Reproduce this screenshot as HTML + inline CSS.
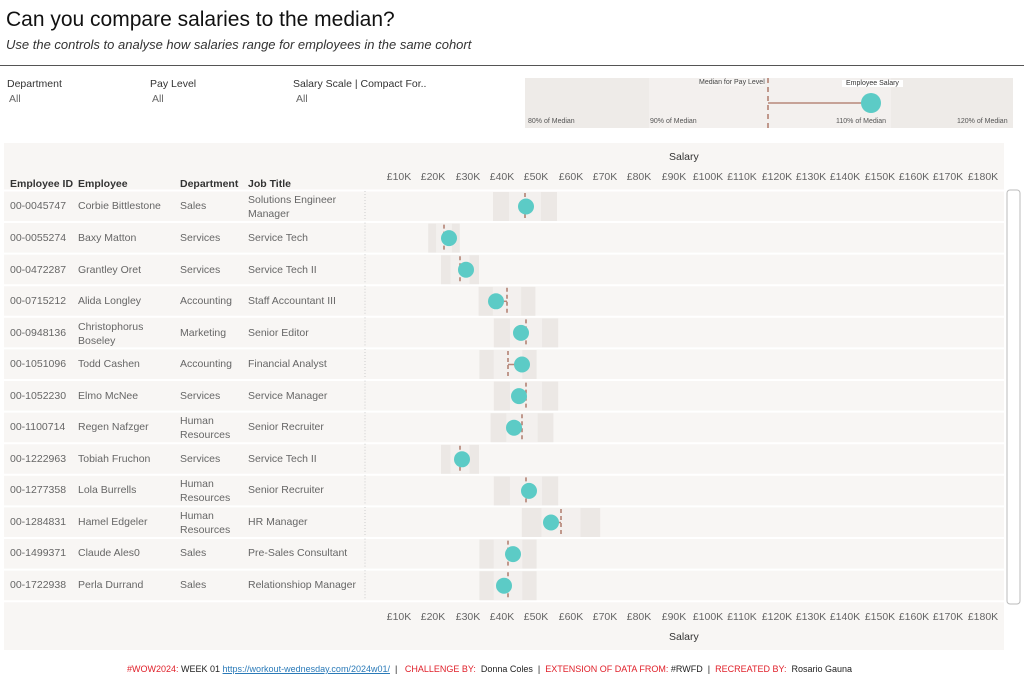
<!DOCTYPE html>
<html><head><meta charset="utf-8"><style>
body{margin:0;width:1024px;height:683px;background:#fff;font-family:"Liberation Sans",sans-serif;position:relative;overflow:hidden}
.a{position:absolute;white-space:nowrap}
.t{font-size:10.5px;color:#666}
.h{font-size:10.5px;color:#333;font-weight:bold}
.k{position:absolute;width:40px;margin-left:-20px;text-align:center;font-size:10.5px;color:#666}
</style></head><body>
<div class="a" style="left:6px;top:8px;font-size:21px;color:#111">Can you compare salaries to the median?</div>
<div class="a" style="left:6px;top:37px;font-size:13px;font-style:italic;color:#333">Use the controls to analyse how salaries range for employees in the same cohort</div>
<div class="a" style="left:0;top:65px;width:1024px;height:1px;background:#555"></div>
<div class="a h" style="left:7px;top:78px;font-weight:normal;color:#333">Department</div><div class="a t" style="left:9px;top:93px">All</div>
<div class="a h" style="left:150px;top:78px;font-weight:normal;color:#333">Pay Level</div><div class="a t" style="left:152px;top:93px">All</div>
<div class="a h" style="left:293px;top:78px;font-weight:normal;color:#333">Salary Scale | Compact For..</div><div class="a t" style="left:296px;top:93px">All</div>
<svg class="a" style="left:0;top:0" width="1024" height="683">
<rect x="525" y="78" width="124" height="50" fill="#eeebe8"/>
<rect x="649" y="78" width="122" height="50" fill="#f3f0ee"/>
<rect x="771" y="78" width="120" height="50" fill="#f3f0ee"/>
<rect x="891" y="78" width="122" height="50" fill="#eeebe8"/>
<line x1="768" y1="78" x2="768" y2="128" stroke="#b07a6c" stroke-width="1.5" stroke-dasharray="5,4"/>
<line x1="768" y1="103" x2="870" y2="103" stroke="#b8887a" stroke-width="1.5"/>
<circle cx="871" cy="103" r="10" fill="#5ccbc6"/>
<rect x="4" y="143" width="1000" height="507" fill="#f8f6f4"/>
<rect x="1007" y="190" width="13" height="414" rx="3" fill="none" stroke="#bbb"/>
<g id="g"></g>
</svg>
<div class="a" style="left:699px;top:79px;font-size:7px;color:#444;background:#f7f5f3">Median for Pay Level</div>
<div class="a" style="left:842px;top:80px;font-size:7px;color:#333;background:#fff;padding:0 4px">Employee Salary</div>
<div class="a" style="left:528px;top:118px;font-size:7px;color:#555">80% of Median</div>
<div class="a" style="left:650px;top:118px;font-size:7px;color:#555">90% of Median</div>
<div class="a" style="left:836px;top:118px;font-size:7px;color:#555">110% of Median</div>
<div class="a" style="left:957px;top:118px;font-size:7px;color:#555">120% of Median</div>
<div class="a h" style="left:669px;top:151px;font-weight:normal;color:#333">Salary</div>
<div class="a h" style="left:669px;top:631px;font-weight:normal;color:#333">Salary</div>
<div class="a h" style="left:10px;top:178px">Employee ID</div>
<div class="a h" style="left:78px;top:178px">Employee</div>
<div class="a h" style="left:180px;top:178px">Department</div>
<div class="a h" style="left:248px;top:178px">Job Title</div>
<div style="position:absolute;left:0;top:171px">
<div class="k" style="left:399px">£10K</div><div class="k" style="left:433px">£20K</div><div class="k" style="left:468px">£30K</div><div class="k" style="left:502px">£40K</div><div class="k" style="left:536px">£50K</div><div class="k" style="left:571px">£60K</div><div class="k" style="left:605px">£70K</div><div class="k" style="left:639px">£80K</div><div class="k" style="left:674px">£90K</div><div class="k" style="left:708px">£100K</div><div class="k" style="left:742px">£110K</div><div class="k" style="left:777px">£120K</div><div class="k" style="left:811px">£130K</div><div class="k" style="left:845px">£140K</div><div class="k" style="left:880px">£150K</div><div class="k" style="left:914px">£160K</div><div class="k" style="left:948px">£170K</div><div class="k" style="left:983px">£180K</div>
</div>
<div style="position:absolute;left:0;top:611px">
<div class="k" style="left:399px">£10K</div><div class="k" style="left:433px">£20K</div><div class="k" style="left:468px">£30K</div><div class="k" style="left:502px">£40K</div><div class="k" style="left:536px">£50K</div><div class="k" style="left:571px">£60K</div><div class="k" style="left:605px">£70K</div><div class="k" style="left:639px">£80K</div><div class="k" style="left:674px">£90K</div><div class="k" style="left:708px">£100K</div><div class="k" style="left:742px">£110K</div><div class="k" style="left:777px">£120K</div><div class="k" style="left:811px">£130K</div><div class="k" style="left:845px">£140K</div><div class="k" style="left:880px">£150K</div><div class="k" style="left:914px">£160K</div><div class="k" style="left:948px">£170K</div><div class="k" style="left:983px">£180K</div>
</div>
<div class="a" style="left:127px;top:664px;font-size:9px;color:#222"><span style="color:#e0202a">#WOW2024:</span> WEEK 01 <span style="color:#2a7ab8;text-decoration:underline">https://workout-wednesday.com/2024w01/</span> &nbsp;| &nbsp; <span style="color:#e0202a">CHALLENGE BY:</span> &nbsp;Donna Coles &nbsp;| &nbsp;<span style="color:#e0202a">EXTENSION OF DATA FROM:</span> #RWFD &nbsp;| &nbsp;<span style="color:#e0202a">RECREATED BY:</span> &nbsp;Rosario Gauna</div>
<div class="a t" style="left:10px;top:200px">00-0045747</div><div class="a t" style="left:78px;top:200px">Corbie Bittlestone</div><div class="a t" style="left:180px;top:200px">Sales</div><div class="a t" style="left:248px;top:193px;line-height:14px">Solutions Engineer<br>Manager</div>
<div class="a t" style="left:10px;top:232px">00-0055274</div><div class="a t" style="left:78px;top:232px">Baxy Matton</div><div class="a t" style="left:180px;top:232px">Services</div><div class="a t" style="left:248px;top:232px">Service Tech</div>
<div class="a t" style="left:10px;top:264px">00-0472287</div><div class="a t" style="left:78px;top:264px">Grantley Oret</div><div class="a t" style="left:180px;top:264px">Services</div><div class="a t" style="left:248px;top:264px">Service Tech II</div>
<div class="a t" style="left:10px;top:295px">00-0715212</div><div class="a t" style="left:78px;top:295px">Alida Longley</div><div class="a t" style="left:180px;top:295px">Accounting</div><div class="a t" style="left:248px;top:295px">Staff Accountant III</div>
<div class="a t" style="left:10px;top:327px">00-0948136</div><div class="a t" style="left:78px;top:320px;line-height:14px">Christophorus<br>Boseley</div><div class="a t" style="left:180px;top:327px">Marketing</div><div class="a t" style="left:248px;top:327px">Senior Editor</div>
<div class="a t" style="left:10px;top:358px">00-1051096</div><div class="a t" style="left:78px;top:358px">Todd Cashen</div><div class="a t" style="left:180px;top:358px">Accounting</div><div class="a t" style="left:248px;top:358px">Financial Analyst</div>
<div class="a t" style="left:10px;top:390px">00-1052230</div><div class="a t" style="left:78px;top:390px">Elmo McNee</div><div class="a t" style="left:180px;top:390px">Services</div><div class="a t" style="left:248px;top:390px">Service Manager</div>
<div class="a t" style="left:10px;top:421px">00-1100714</div><div class="a t" style="left:78px;top:421px">Regen Nafzger</div><div class="a t" style="left:180px;top:414px;line-height:14px">Human<br>Resources</div><div class="a t" style="left:248px;top:421px">Senior Recruiter</div>
<div class="a t" style="left:10px;top:453px">00-1222963</div><div class="a t" style="left:78px;top:453px">Tobiah Fruchon</div><div class="a t" style="left:180px;top:453px">Services</div><div class="a t" style="left:248px;top:453px">Service Tech II</div>
<div class="a t" style="left:10px;top:484px">00-1277358</div><div class="a t" style="left:78px;top:484px">Lola Burrells</div><div class="a t" style="left:180px;top:477px;line-height:14px">Human<br>Resources</div><div class="a t" style="left:248px;top:484px">Senior Recruiter</div>
<div class="a t" style="left:10px;top:516px">00-1284831</div><div class="a t" style="left:78px;top:516px">Hamel Edgeler</div><div class="a t" style="left:180px;top:509px;line-height:14px">Human<br>Resources</div><div class="a t" style="left:248px;top:516px">HR Manager</div>
<div class="a t" style="left:10px;top:547px">00-1499371</div><div class="a t" style="left:78px;top:547px">Claude Ales0</div><div class="a t" style="left:180px;top:547px">Sales</div><div class="a t" style="left:248px;top:547px">Pre-Sales Consultant</div>
<div class="a t" style="left:10px;top:579px">00-1722938</div><div class="a t" style="left:78px;top:579px">Perla Durrand</div><div class="a t" style="left:180px;top:579px">Sales</div><div class="a t" style="left:248px;top:579px">Relationshiop Manager</div>
<script>
var g=document.getElementById('g'),h='';
var d=[[525,526],[444,449],[460,466],[507,496],[526,521],[508,522],[526,519],[522,514],[460,462],[526,529],[561,551],[508,513],[508,504]];
h+='<line x1="4" y1="190.5" x2="1004" y2="190.5" stroke="#fff" stroke-width="2"/>';
for(var i=0;i<13;i++){var y0=191+i*31.6,c=y0+15.5,m=d[i][0]-365,s=d[i][1];
h+='<line x1="4" y1="'+(y0+31)+'" x2="1004" y2="'+(y0+31)+'" stroke="#fff" stroke-width="2"/>';
var x8=365+.8*m,x9=365+.9*m,x11=365+1.1*m,x12=365+1.2*m;
h+='<rect x="'+x8+'" y="'+(y0+1)+'" width="'+(x12-x8)+'" height="29" fill="#ece8e5"/>';
h+='<rect x="'+x9+'" y="'+(y0+1)+'" width="'+(x11-x9)+'" height="29" fill="#f3f0ee"/>';
h+='<line x1="365" y1="'+y0+'" x2="365" y2="'+(y0+30)+'" stroke="#ccc" stroke-dasharray="1,2"/>';
h+='<line x1="'+d[i][0]+'" y1="'+(y0+2)+'" x2="'+d[i][0]+'" y2="'+(y0+29)+'" stroke="#b07a6c" stroke-width="1.5" stroke-dasharray="4,3"/>';
h+='<line x1="'+d[i][0]+'" y1="'+c+'" x2="'+s+'" y2="'+c+'" stroke="#b8887a" stroke-width="1.5"/>';
h+='<circle cx="'+s+'" cy="'+c+'" r="8" fill="#5ccbc6"/>';}
g.innerHTML=h;
</script>
</body></html>
